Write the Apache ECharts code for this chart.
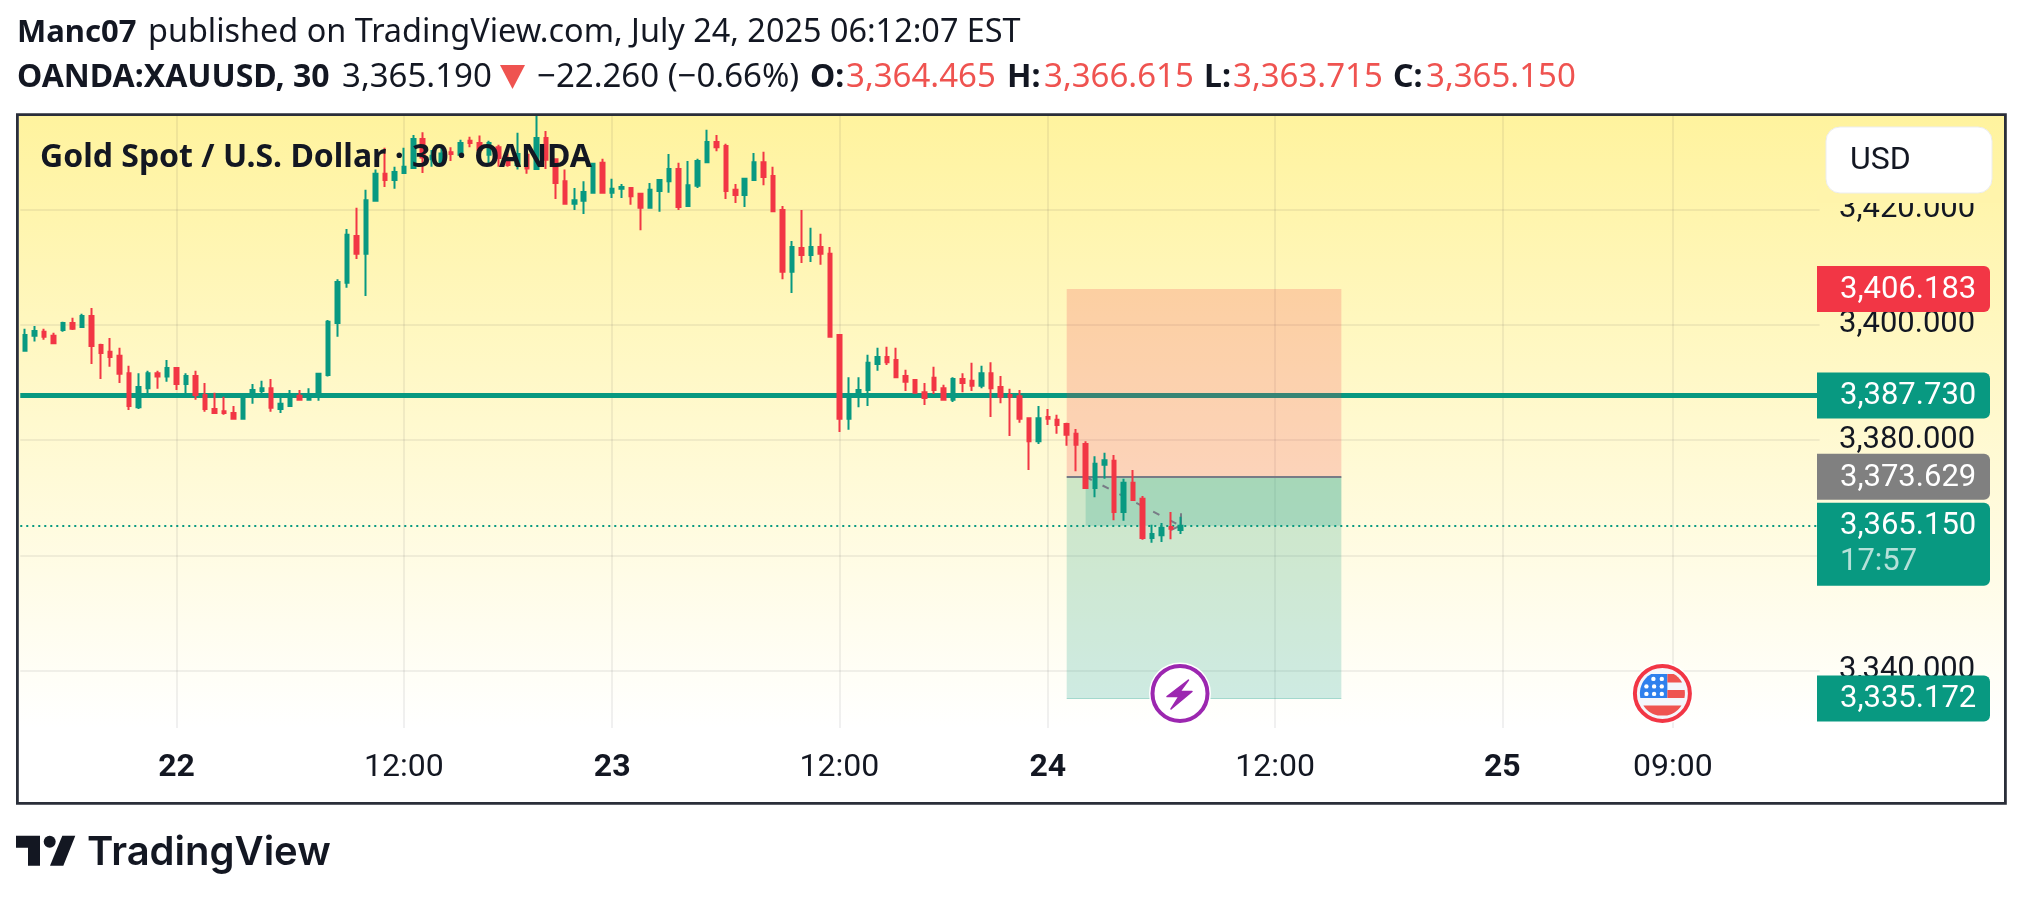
<!DOCTYPE html>
<html><head><meta charset="utf-8"><title>XAUUSD</title>
<style>html,body{margin:0;padding:0;background:#fff}#c{width:2023px;height:900px}</style>
<script src="https://cdn.jsdelivr.net/npm/echarts@6/dist/echarts.min.js"></script>
</head><body><div id="c"></div>
<script>
const openVals=[3395.5,3398.1,3398.8,3398.1,3399.1,3400.3,3399.6,3401.5,3396.5,3395.3,3394.6,3391.6,3385.7,3389.0,3391.6,3391.0,3392.5,3389.7,3391.1,3387.8,3385.4,3385.0,3384.7,3383.7,3387.7,3388.5,3389.0,3385.4,3385.9,3387.7,3387.0,3387.7,3391.3,3400.3,3407.3,3415.4,3412.3,3421.5,3426.2,3425.1,3426.3,3427.2,3432.2,3428.7,3428.0,3429.9,3429.5,3431.9,3431.5,3429.5,3430.8,3428.9,3427.7,3429.5,3427.0,3432.4,3428.7,3424.9,3421.0,3421.5,3422.9,3428.1,3422.9,3423.6,3423.7,3422.7,3420.3,3423.2,3424.9,3427.0,3420.6,3424.1,3428.2,3431.7,3431.0,3423.4,3422.5,3425.1,3428.2,3425.8,3419.9,3409.2,3413.3,3412.1,3413.5,3412.3,3398.2,3383.7,3387.5,3388.7,3393.2,3394.4,3393.9,3391.1,3390.4,3388.3,3390.8,3389.0,3387.0,3390.6,3390.3,3389.4,3391.6,3389.2,3387.8,3387.6,3383.8,3379.8,3384.0,3383.5,3382.8,3381.1,3379.3,3371.7,3375.7,3376.4,3367.5,3372.6,3369.8,3363.0,3363.5,3364.9,3364.4];
const closeVals=[3398.2,3398.9,3397.9,3396.8,3400.3,3399.3,3401.5,3396.3,3395.1,3394.4,3391.5,3385.9,3389.2,3391.6,3391.0,3392.5,3389.7,3391.1,3387.8,3385.4,3384.7,3384.7,3383.7,3387.7,3388.7,3389.0,3385.6,3386.3,3388.0,3387.0,3388.0,3391.5,3400.5,3407.4,3415.6,3412.3,3421.6,3426.2,3425.1,3426.5,3427.4,3432.2,3429.0,3429.3,3429.7,3429.6,3431.5,3431.5,3430.3,3431.5,3428.9,3427.7,3429.6,3427.1,3432.4,3428.6,3424.6,3421.0,3421.6,3423.0,3427.9,3422.9,3423.6,3423.9,3422.3,3420.3,3423.4,3425.1,3427.0,3420.4,3424.2,3428.4,3431.7,3430.8,3423.2,3422.5,3425.3,3428.2,3425.6,3419.7,3409.2,3413.5,3412.1,3413.5,3412.3,3397.9,3383.7,3387.5,3388.7,3393.4,3394.4,3393.5,3390.9,3390.1,3388.2,3387.3,3388.7,3387.0,3390.6,3389.9,3389.4,3391.6,3389.0,3387.5,3387.5,3383.7,3379.8,3383.8,3383.7,3382.6,3380.9,3379.2,3371.7,3375.9,3376.5,3367.5,3372.6,3369.6,3363.0,3363.7,3364.8,3364.6,3365.15];
const lowVals=[3395.3,3397.1,3397.4,3396.8,3398.8,3399.1,3399.6,3393.2,3390.6,3392.7,3389.9,3385.2,3385.4,3388.0,3388.9,3390.1,3388.7,3388.0,3387.0,3384.9,3384.5,3384.4,3383.5,3383.5,3386.3,3388.0,3384.9,3384.7,3385.9,3386.8,3386.8,3386.8,3391.0,3397.9,3406.4,3411.4,3405.0,3421.5,3423.9,3423.6,3426.2,3427.2,3426.3,3427.4,3427.9,3428.4,3429.2,3430.8,3429.5,3427.7,3427.4,3427.4,3426.9,3426.2,3426.9,3427.0,3421.8,3421.0,3419.9,3419.2,3422.9,3422.9,3422.0,3422.0,3420.8,3416.4,3420.3,3419.6,3422.9,3419.9,3420.4,3423.7,3428.2,3430.1,3421.8,3421.1,3420.4,3425.1,3424.2,3419.7,3407.9,3405.5,3410.7,3410.9,3410.4,3397.9,3381.4,3381.8,3385.7,3385.9,3392.0,3393.0,3390.9,3388.5,3388.2,3386.1,3388.0,3387.0,3386.6,3388.3,3388.5,3389.0,3384.0,3386.4,3380.7,3383.0,3374.8,3379.3,3382.6,3381.1,3379.0,3374.6,3371.5,3370.1,3373.3,3366.1,3366.0,3369.6,3362.7,3362.2,3362.3,3362.8,3363.7];
const highVals=[3399.3,3399.8,3399.3,3398.6,3400.5,3401.2,3401.9,3402.9,3396.7,3397.7,3396.0,3392.9,3391.6,3392.0,3392.0,3393.9,3392.5,3391.6,3392.0,3389.9,3388.2,3387.5,3385.9,3387.7,3389.7,3390.3,3390.6,3387.5,3388.7,3388.7,3389.0,3391.6,3400.8,3407.9,3416.6,3420.3,3423.4,3426.9,3430.7,3427.4,3430.7,3432.9,3433.4,3430.3,3431.0,3430.8,3432.1,3432.6,3432.8,3431.9,3431.2,3429.7,3433.3,3429.7,3436.2,3433.6,3428.7,3426.9,3423.7,3424.9,3428.1,3428.8,3425.3,3424.4,3423.9,3422.9,3424.6,3425.1,3429.6,3428.1,3428.4,3428.8,3433.8,3432.9,3431.4,3424.4,3425.3,3429.8,3430.0,3427.4,3420.6,3414.5,3419.9,3416.8,3415.8,3413.5,3398.2,3390.9,3390.9,3394.8,3396.0,3396.2,3396.0,3392.2,3390.6,3389.9,3392.7,3389.6,3390.9,3391.6,3393.4,3392.9,3393.5,3391.1,3388.9,3388.7,3383.8,3385.9,3385.4,3384.4,3383.0,3381.9,3379.8,3377.2,3377.8,3377.4,3373.3,3374.8,3370.3,3365.3,3365.6,3367.5,3366.7];
const timeSlots=190;
const timeTickIndex=[16,40,62,86,108,132,156,174];
const timeTickLabels=['22','12:00','23','12:00','24','12:00','25','09:00'];
const dayTicks=['22','23','24','25'];
const priceTicks=[3340,3360,3380,3400,3420];
const supportLevel=3387.73, lastClose=3365.15;
const stopLevel=3406.183, entryLevel=3373.629, targetLevel=3335.172;
const positionStart=110, positionEnd=139, filledStart=112, filledEnd=122;
const categories=Array.from({length:timeSlots},(_,i)=>String(i));
const candles=openVals.map((o,i)=>[o,closeVals[i],lowVals[i],highVals[i]]);
const fmt=v=>v.toLocaleString('en-US',{minimumFractionDigits:3,maximumFractionDigits:3});
const UP='#089981',DOWN='#F23645',INK='#131722',SOFT='#EF5350';
const GRIDC='rgba(42,46,57,0.07)';
const chart=echarts.init(document.getElementById('c'),null,{renderer:'canvas'});
const S='Noto Sans',R='Roboto';
function T(x,y,text,o){o=o||{};return {type:'text',z:120,x,y,style:{text,font:`${o.w||400} ${o.s||33}px "${o.f||S}"`,fill:o.c||INK,textVerticalAlign:'middle',textAlign:o.a||'left'}};}
function band(cx,cy,y0,y1,r,xL,xR,fill,z){const p=[];const n=10;
 const seg=(i)=>{const d=y0+(y1-y0)*i/n-cy;return [d,Math.sqrt(Math.max(0,r*r-d*d))];};
 for(let i=0;i<=n;i++){const [d,w]=seg(i);p.push([xR==null?cx+w:Math.min(cx+w,xR),cy+d]);}
 for(let i=n;i>=0;i--){const [d,w]=seg(i);p.push([xL==null?cx-w:Math.max(cx-w,xL),cy+d]);}
 return {type:'polygon',z:z||110,shape:{points:p},style:{fill}};}
function staticGraphics(){
 const g=[];
 g.push({type:'rect',z:-5,shape:{x:19,y:116,width:1986,height:612},style:{fill:new echarts.graphic.LinearGradient(0,0,0,1,[{offset:0,color:'#FFF39E'},{offset:1,color:'#FFFFFF'}])}});
 g.push({type:'rect',z:130,shape:{x:17.4,y:114.7,width:1988,height:688.6},style:{fill:'none',stroke:'#2A2E39',lineWidth:2.8}});
 g.push(T(17,33,'Manc07',{w:700,s:31}));
 g.push(T(148,33,'published on TradingView.com, July 24, 2025 06:12:07 EST',{s:32.4}));
 g.push(T(17,78,'OANDA:XAUUSD, 30',{w:700,s:32}));
 g.push(T(342,78,'3,365.190'));
 g.push({type:'polygon',z:120,shape:{points:[[500,65],[525,65],[512.5,89]]},style:{fill:SOFT}});
 g.push(T(537,78,'\u221222.260 (\u22120.66%)'));
 const oh=[[810,'O:',846,'3,364.465'],[1007,'H:',1044,'3,366.615'],[1204,'L:',1233,'3,363.715'],[1393,'C:',1426,'3,365.150']];
 oh.forEach(a=>{g.push(T(a[0],78,a[1],{w:700,s:32}));g.push(T(a[2],78,a[3],{c:SOFT}));});
 g.push(T(40,158,'Gold Spot / U.S. Dollar \u00b7 30 \u00b7 OANDA',{w:700,s:32}));
 // USD button and the strip of the pane that clips the axis label below it
 g.push({type:'rect',z:114,shape:{x:1817,y:190,width:187,height:13},style:{fill:'#FFF4AB'}});
 g.push({type:'rect',z:115,shape:{x:1826,y:127,width:166,height:66,r:14},style:{fill:'#fff',stroke:'#ECEDEF',lineWidth:1}});
 g.push(T(1850,161,'USD',{f:R,s:32}));
 // logo
 g.push({type:'polygon',z:120,shape:{points:[[16,835.7],[40,835.7],[40,865.7],[28,865.7],[28,847.7],[16,847.7]]},style:{fill:INK}});
 g.push({type:'circle',z:120,shape:{cx:49.7,cy:841.7,r:6},style:{fill:INK}});
 g.push({type:'polygon',z:120,shape:{points:[[62.3,835.7],[75.3,835.7],[63.3,865.7],[50,865.7]]},style:{fill:INK}});
 g.push(T(87,853,'TradingView',{f:'Inter',w:600,s:40}));
 // event icons
 const cy=693.4,c1=1180,c2=1662.4;
 g.push({type:'circle',z:108,shape:{cx:c1,cy,r:31},style:{fill:'#fff'}});
 g.push({type:'circle',z:109,shape:{cx:c1,cy,r:27.5},style:{fill:'#fff',stroke:'#9C27B0',lineWidth:4}});
 g.push({type:'polygon',z:110,shape:{points:[[1188.5,680],[1167,696.5],[1179,696.5],[1171,709],[1192,691.5],[1180,691.5]]},style:{fill:'#9C27B0',stroke:'#9C27B0',lineWidth:1.5,lineJoin:'round'}});
 g.push({type:'circle',z:108,shape:{cx:c2,cy,r:31},style:{fill:'#fff'}});
 g.push({type:'circle',z:109,shape:{cx:c2,cy,r:27.5},style:{fill:'#F4F6FB',stroke:'#F23645',lineWidth:4}});
 const r=22.5,cut=c2+5;
 g.push(band(c2,cy,cy-19.5,cy+4.5,r,null,cut,'#2F80ED'));
 g.push(band(c2,cy,cy-19.5,cy-11,r,cut,null,'#EF5350'));
 g.push(band(c2,cy,cy-3.3,cy+4.5,r,cut,null,'#EF5350'));
 g.push(band(c2,cy,cy+12,cy+22,r,null,null,'#EF5350'));
 [[-9,-14.5],[-0.6,-14.5],[-16,-7],[-8.3,-7],[-0.6,-7],[-16,0.5],[-8.3,0.5],[-0.6,0.5]].forEach(d=>g.push({type:'circle',z:112,shape:{cx:c2+d[0],cy:cy+d[1],r:2.2},style:{fill:'#fff'}}));
 return g;
}
const option={
 animation:false,backgroundColor:'#FFFFFF',
 textStyle:{fontFamily:R},
 grid:{left:20.27,top:116,width:1799.3,height:612,containLabel:false},
 xAxis:{type:'category',data:categories,boundaryGap:true,
  axisLine:{show:false},axisTick:{show:false,alignWithLabel:true,interval:(i)=>timeTickIndex.includes(i)},
  splitLine:{show:true,alignWithLabel:true,interval:(i)=>timeTickIndex.includes(i),lineStyle:{color:GRIDC,width:2}},
  axisLabel:{interval:(i)=>timeTickIndex.includes(i),margin:24,fontFamily:R,fontSize:32,color:INK,hideOverlap:false,
   formatter:(v,i)=>{const k=timeTickIndex.indexOf(+v);if(k<0)return '';const t=timeTickLabels[k];return dayTicks.includes(t)?`{d|${t}}`:t;},
   rich:{d:{fontFamily:R,fontWeight:700,fontSize:32,color:INK}}}},
 yAxis:{type:'value',position:'right',scale:true,min:3330.06,max:3436.2,
  axisLine:{show:false},
  axisTick:{show:false,customValues:priceTicks},
  splitLine:{show:true,lineStyle:{color:GRIDC,width:2}},
  axisLabel:{customValues:priceTicks,margin:19.4,fontFamily:R,fontSize:31,color:INK,align:'left',padding:[0,0,2,0],formatter:v=>fmt(v)}},
 series:[
  {name:'levels',type:'line',data:[],z:1,silent:true,
   markLine:{z:1,silent:true,symbol:'none',animation:false,label:{show:false},emphasis:{disabled:true},
    data:[{yAxis:supportLevel,lineStyle:{color:UP,width:5,type:'solid'}}]}},
  {name:'XAUUSD',type:'candlestick',z:4,data:candles,barWidth:4,silent:true,
   itemStyle:{color:UP,color0:DOWN,borderColor:UP,borderColor0:DOWN,borderWidth:2},
   markArea:{z:2,silent:true,animation:false,
    data:[
     [{xAxis:String(positionStart),yAxis:stopLevel,itemStyle:{color:'rgba(242,54,69,0.2)'}},{xAxis:String(positionEnd),yAxis:entryLevel}],
     [{xAxis:String(positionStart),yAxis:entryLevel,itemStyle:{color:'rgba(8,153,129,0.2)'}},{xAxis:String(positionEnd),yAxis:targetLevel}],
     [{xAxis:String(filledStart),yAxis:entryLevel,itemStyle:{color:'rgba(8,153,129,0.2)'}},{xAxis:String(positionEnd),yAxis:lastClose}]
    ]},
   markLine:{z:3,silent:true,symbol:'none',animation:false,label:{show:false},
    data:[
     {yAxis:lastClose,lineStyle:{color:UP,width:2,type:[2,4]}},
     [{xAxis:String(positionStart),yAxis:entryLevel,lineStyle:{color:'#787B86',width:2,type:'solid'}},{xAxis:String(positionEnd),yAxis:entryLevel}],
     [{xAxis:String(positionStart),yAxis:targetLevel,lineStyle:{color:'rgba(8,153,129,0.3)',width:1,type:'solid'}},{xAxis:String(positionEnd),yAxis:targetLevel}],
     [{xAxis:String(filledStart),yAxis:entryLevel,lineStyle:{color:'#787B86',width:2,type:[7,12]}},{xAxis:String(filledEnd),yAxis:lastClose}],
     [{xAxis:String(filledEnd),yAxis:3367.3,lineStyle:{color:'#787B86',width:2,type:'solid'}},{xAxis:String(filledEnd),yAxis:lastClose}],
     [{xAxis:'121',yAxis:3364.4,lineStyle:{color:'#787B86',width:2,type:'solid'}},{xAxis:String(filledEnd),yAxis:lastClose}]
    ]}}
 ],
 graphic:{elements:staticGraphics()}
};
chart.setOption(option);
function tag(value,fill,extra,h){
 const y=chart.convertToPixel({yAxisIndex:0},value);
 const tagH=h||46,top=y-23;
 const out=[{type:'rect',z:116,shape:{x:1817,y:top,width:173,height:tagH,r:[0,6,6,0]},style:{fill}},
  T(1840,y+1,fmt(value),{f:R,c:'#FFFFFF',s:31})];
 if(extra)out.push(T(1840,y+37,extra,{f:R,c:'rgba(255,255,255,0.7)',s:31}));
 return out;
}
const tags=[].concat(tag(stopLevel,'#F23645'),tag(supportLevel,UP),tag(entryLevel,'#808080'),tag(lastClose,UP,'17:57',83),tag(targetLevel,UP));
chart.setOption({graphic:{elements:staticGraphics().concat(tags)}},{replaceMerge:['graphic']});
</script></body></html>
